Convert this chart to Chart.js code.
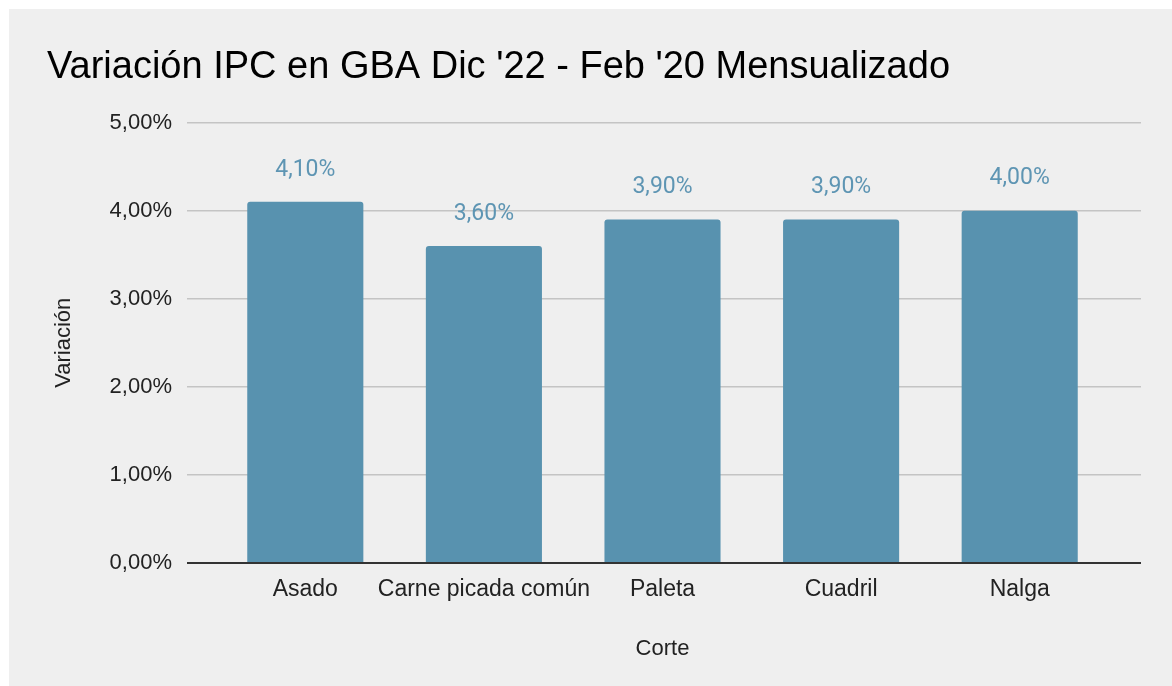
<!DOCTYPE html>
<html>
<head>
<meta charset="utf-8">
<script src="https://cdn.jsdelivr.net/npm/chart.js@4"></script>
<style>
  html, body { margin: 0; padding: 0; background: #fff; }
  #wrap { position: absolute; left: 9px; top: 9px; width: 1163px; height: 677px; background: #efefef; }
</style>
</head>
<body>
<div id="wrap"><canvas id="chartCorte"></canvas></div>
<script>
const cortes = ['Asado', 'Carne picada común', 'Paleta', 'Cuadril', 'Nalga'];
const variacion = [4.1, 3.6, 3.9, 3.9, 4.0];
const ticksY = [0, 1, 2, 3, 4, 5];

const fmt = v => v.toFixed(2).replace('.', ',') + '%';
const gridColor = c => (c.tick && c.tick.value === 0) ? '#333333' : '#c4c4c4';
const gridWidth = c => (c.tick && c.tick.value === 0) ? 2 : 1.5;
const setTicks = s => { s.ticks = ticksY.map(v => ({ value: v })); };

// etiquetas de valor arriba de cada barra
const etiquetas = {
  id: 'etiquetas',
  afterDatasetsDraw(chart) {
    const ctx = chart.ctx;
    const meta = chart.getDatasetMeta(0);
    ctx.save();
    ctx.font = '23px Roboto';
    ctx.fillStyle = '#5e95b3';
    ctx.textAlign = 'center';
    ctx.textBaseline = 'middle';
    meta.data.forEach((bar, i) => {
      ctx.fillText(fmt(variacion[i]), bar.x, bar.y - 32);
    });
    ctx.restore();
  }
};

const ctx = document.getElementById('chartCorte');

new Chart(ctx, {
  type: 'bar',
  data: {
    labels: cortes,
    datasets: [{
      label: 'Variación',
      data: variacion,
      backgroundColor: '#5892af',
      borderRadius: { topLeft: 3, topRight: 3 },
      borderSkipped: 'start',
      categoryPercentage: 1,
      barPercentage: 0.65,
      yAxisID: 'y'
    }]
  },
  plugins: [etiquetas],
  options: {
    responsive: true,
    maintainAspectRatio: false,
    animation: false,
    layout: { padding: { left: 38, right: 31, top: 0, bottom: 20 } },
    plugins: {
      legend: { display: false },
      tooltip: { enabled: false },
      title: {
        display: true,
        text: "Variación IPC en GBA Dic '22 - Feb '20 Mensualizado",
        align: 'start',
        color: '#000',
        font: { family: 'Liberation Sans, Arial', size: 38, weight: 'normal' },
        padding: { top: 36, bottom: 32 }
      }
    },
    scales: {
      x: {
        grid: { display: false },
        border: { display: false },
        ticks: { color: '#222', font: { family: 'Liberation Sans, Arial', size: 23 }, padding: 5, maxRotation: 0, autoSkip: false },
        title: { display: true, text: 'Corte', color: '#222', font: { family: 'Liberation Sans, Arial', size: 22 } },
        afterFit: s => { s.height = 103; }
      },
      y: {
        position: 'left',
        min: 0,
        max: 5,
        afterBuildTicks: setTicks,
        border: { display: false },
        grid: { color: gridColor, lineWidth: gridWidth, drawTicks: true, tickLength: 29 },
        ticks: { color: '#222', font: { family: 'Liberation Sans, Arial', size: 22 }, padding: 15, callback: v => fmt(v) },
        title: { display: true, text: 'Variación', color: '#222', font: { family: 'Liberation Sans, Arial', size: 22 } },
        afterFit: s => { s.width = 169; }
      },
      y2: {
        position: 'right',
        min: 0,
        max: 5,
        afterBuildTicks: setTicks,
        border: { display: false },
        grid: { drawOnChartArea: false, color: gridColor, lineWidth: gridWidth, drawTicks: true, tickLength: 32 },
        ticks: { display: false },
        afterFit: s => { s.width = 32; }
      }
    }
  }
});
</script>
</body>
</html>
